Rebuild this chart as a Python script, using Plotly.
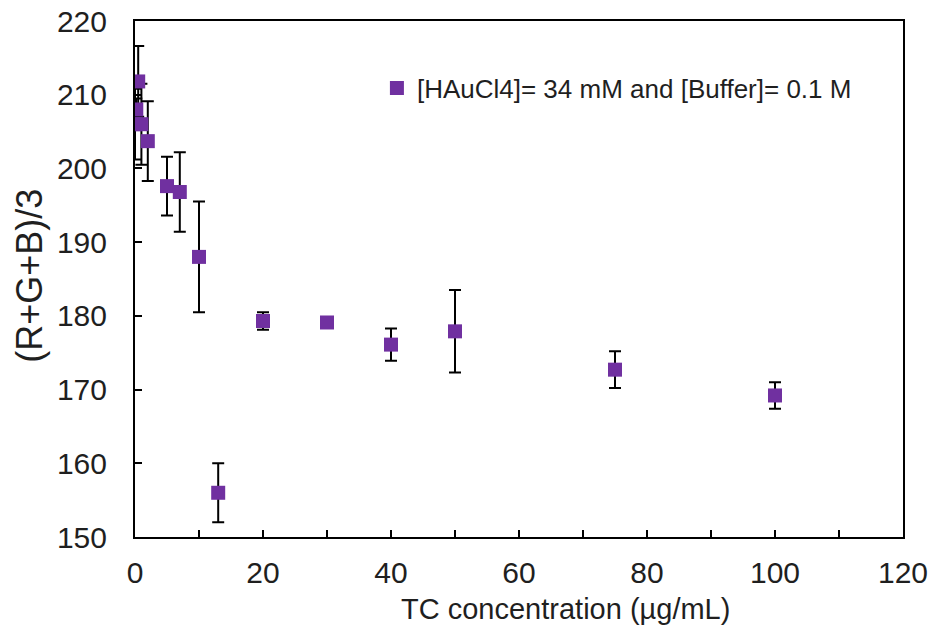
import plotly.graph_objects as go

# TC concentration (µg/mL) and mean (R+G+B)/3 with standard deviations
tc_conc = [0, 0.2, 0.5, 1, 2, 5, 7, 10, 13, 20, 30, 40, 50, 75, 100]
rgb_mean = [206.0, 208.0, 211.8, 206.0, 203.7, 197.6, 196.8, 188.0, 156.0,
            179.3, 179.1, 176.1, 177.9, 172.7, 169.2]
rgb_sd = [4.8, 1.5, 4.8, 5.5, 5.4, 4.0, 5.4, 7.5, 4.0,
          1.2, 0.0, 2.2, 5.6, 2.5, 1.8]

series_name = "[HAuCl4]= 34 mM and [Buffer]= 0.1 M"
x_title = "TC concentration (µg/mL)"
y_title = "(R+G+B)/3"
x_ticks = [0, 20, 40, 60, 80, 100, 120]
y_ticks = [150, 160, 170, 180, 190, 200, 210, 220]

FONT = "Liberation Sans, Arial, sans-serif"
TEXT = "#1f1f1f"

fig = go.Figure()
fig.add_trace(go.Scatter(
    x=tc_conc,
    y=rgb_mean,
    mode="markers",
    name=series_name,
    marker=dict(symbol="square", size=14, color="#7030A0"),
    error_y=dict(type="data", array=rgb_sd, visible=True,
                 color="black", thickness=2, width=6),
    showlegend=True,
))

axis_common = dict(
    showline=True, linecolor="black", linewidth=2, mirror=True,
    showgrid=False, zeroline=False,
    ticks="inside", ticklen=7, tickwidth=1.5, tickcolor="black",
    tickfont=dict(family=FONT, size=30, color=TEXT),
    ticklabeloverflow="allow",
)

fig.update_xaxes(
    range=[0, 120], tickvals=x_ticks,
    minor=dict(dtick=10, ticks="inside", ticklen=7, tickwidth=1.5, tickcolor="black"),
    ticklabelstandoff=8,
    **axis_common,
)
fig.update_yaxes(
    range=[150, 220], tickvals=y_ticks,
    ticklabelstandoff=20,
    **axis_common,
)

# axis titles placed as annotations in paper coordinates
fig.add_annotation(text=x_title, xref="paper", yref="paper", x=0.56, y=-0.14,
                   xanchor="center", yanchor="middle", showarrow=False,
                   font=dict(family=FONT, size=29, color=TEXT))
fig.add_annotation(text=y_title, xref="paper", yref="paper", x=-0.137, y=0.506,
                   xanchor="center", yanchor="middle", showarrow=False, textangle=-90,
                   font=dict(family=FONT, size=36, color=TEXT))

fig.update_layout(
    width=928, height=641,
    margin=dict(l=135, r=25, t=21, b=104, autoexpand=False),
    paper_bgcolor="white", plot_bgcolor="white",
    legend=dict(x=0.315, y=0.87, xanchor="left", yanchor="middle",
                bgcolor="rgba(0,0,0,0)",
                font=dict(family=FONT, size=26, color=TEXT)),
)

fig.write_html("out.html")
